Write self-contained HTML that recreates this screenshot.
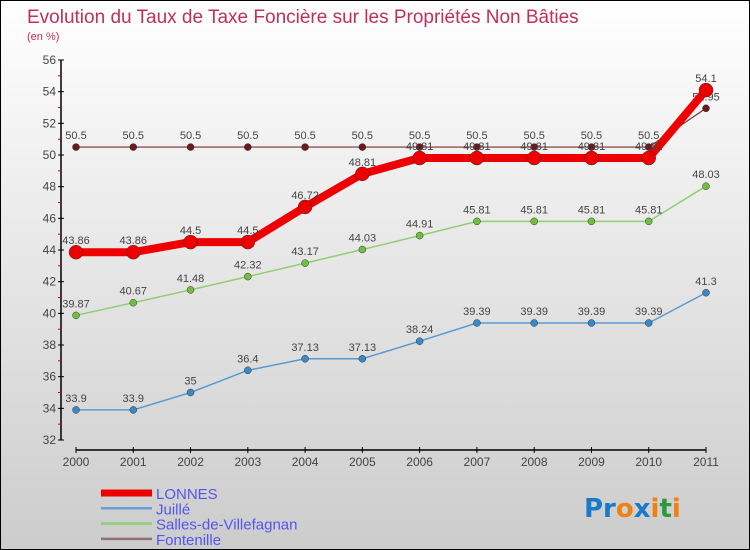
<!DOCTYPE html>
<html><head><meta charset="utf-8"><style>
body{margin:0;}
#c{width:748px;height:548px;border:1px solid #000;position:relative;background:linear-gradient(#fff,#ccc);font-family:"Liberation Sans",sans-serif;overflow:hidden}
</style></head><body>
<div id="c">
<svg id="s" width="748" height="548" xmlns="http://www.w3.org/2000/svg">
<text x="26" y="22" font-size="19" fill="#c0305a">Evolution du Taux de Taxe Foncière sur les Propriétés Non Bâties</text>
<text x="26" y="39" font-size="11" fill="#c0305a">(en %)</text>
<g id="axes"></g><g id="series"></g><g id="legend"></g>
<text x="583" y="516" font-size="26" font-family="DejaVu Sans" font-weight="bold"><tspan fill="#1a7ac8">Pr</tspan><tspan fill="#f08010">o</tspan><tspan fill="#1a7ac8">x</tspan><tspan fill="#f08010">i</tspan><tspan fill="#2a9a3a">t</tspan><tspan fill="#f08010">i</tspan></text>
</svg></div>
<script>
const years=[2000,2001,2002,2003,2004,2005,2006,2007,2008,2009,2010,2011];
const lonnes=[43.86,43.86,44.5,44.5,46.72,48.81,49.81,49.81,49.81,49.81,49.81,54.1];
const juille=[33.9,33.9,35,36.4,37.13,37.13,38.24,39.39,39.39,39.39,39.39,41.3];
const salles=[39.87,40.67,41.48,42.32,43.17,44.03,44.91,45.81,45.81,45.81,45.81,48.03];
const fonten=[50.5,50.5,50.5,50.5,50.5,50.5,50.5,50.5,50.5,50.5,50.5,52.95];
const yTicks=[32,34,36,38,40,42,44,46,48,50,52,54,56];
const NS="http://www.w3.org/2000/svg";
const X=i=>75+i*(705-75)/11;
const Y=v=>439-(v-32)*(439-59)/24;
function mk(p,t,a){const e=document.createElementNS(NS,t);for(const k in a)e.setAttribute(k,a[k]);p.appendChild(e);return e;}
const ax=document.getElementById('axes');
let e=mk(ax,'line',{x1:60,y1:Y(56),x2:60,y2:Y(32),stroke:'#000','stroke-width':1.5});

e=mk(ax,'line',{x1:75,y1:449,x2:705,y2:449,stroke:'#000','stroke-width':1.5});

yTicks.forEach(v=>{mk(ax,'line',{x1:57,x2:63,y1:Y(v),y2:Y(v),stroke:'#000'});
 if(v<56)mk(ax,'line',{x1:57,x2:60,y1:Y(v+1),y2:Y(v+1),stroke:'#d00'});
 const t=mk(ax,'text',{x:55,y:Y(v)+4,'font-size':12,fill:'#444','text-anchor':'end'});t.textContent=v;
 });
years.forEach((y,i)=>{mk(ax,'line',{x1:X(i),x2:X(i),y1:446,y2:452,stroke:'#000'});
 const t=mk(ax,'text',{x:X(i),y:465,'font-size':12,fill:'#444','text-anchor':'middle'});t.textContent=y;
 });
const sg=document.getElementById('series');
function draw(vals,name,col,w,r,dot){
 const g=mk(sg,'g',{});
 mk(g,'polyline',{points:vals.map((v,i)=>X(i)+','+Y(v)).join(' '),fill:'none',stroke:col,'stroke-width':w,'stroke-linejoin':'round'});
 vals.forEach((v,i)=>{const c=mk(g,'circle',{cx:X(i),cy:Y(v),r:r,fill:dot,stroke:'#333','stroke-width':0.5});
  
  const t=mk(g,'text',{x:X(i),y:Y(v)-8,'font-size':11,fill:'#444','text-anchor':'middle'});t.textContent=v;
  });
}
draw(fonten,'fontenille','#7a3030',1.2,3.5,'#6a1a1a');
draw(juille,'juille','#5a9ad0',1.5,3.5,'#3a88c8');
draw(salles,'salles','#90d070',1.5,3.5,'#70c040');
draw(lonnes,'lonnes','#ee0000',8,7,'#ee0000');
const lg=document.getElementById('legend');
[['LONNES','#ee0000',7],['Juillé','#6aa0d0',2.5],['Salles-de-Villefagnan','#90d070',2.5],['Fontenille','#907070',2.5]].forEach((d,i)=>{
 const y=492+i*15.3;
 const g=mk(lg,'g',{});
 mk(g,'line',{x1:100,x2:151,y1:y,y2:y,stroke:d[1],'stroke-width':d[2]});
 const t=mk(g,'text',{x:155,y:y+6,'font-size':15,fill:'#5555ee'});t.textContent=d[0];
});
</script>
</body></html>
